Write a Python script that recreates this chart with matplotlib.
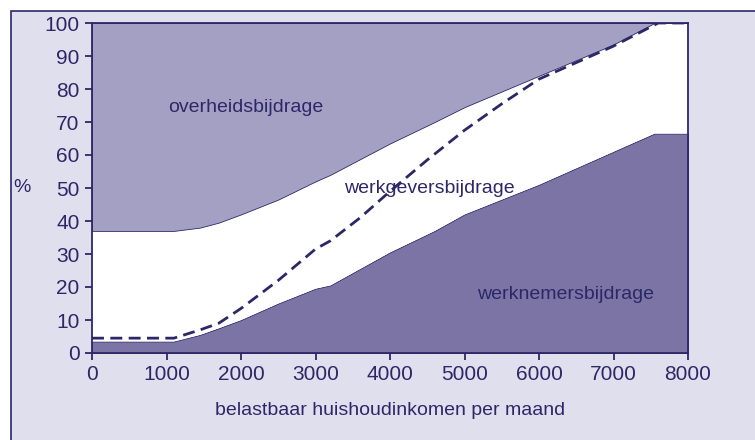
import matplotlib
matplotlib.use("Agg")
import matplotlib.pyplot as plt
from matplotlib.patches import Rectangle

# ---- data ----
income = [0, 1100, 1450, 1700, 2000, 2500, 3000, 3200, 4000, 4600, 5000, 6000, 7000, 7550, 8000]
upper_bound = [37, 37, 38, 39.5, 42, 46.5, 52, 54, 63.5, 70, 74.5, 84, 93.5, 100, 100]
lower_bound = [3.5, 3.5, 5.5, 7.5, 10, 15, 19.5, 20.5, 30.5, 37, 42, 51, 61, 66.5, 66.5]

dash_income = [0, 1100, 1450, 1700, 2000, 2500, 3000, 3200, 3600, 4000, 4500, 5000, 5500, 6000, 6500, 7000, 7600, 8000]
dash_values = [4.5, 4.5, 7, 9, 13.5, 22, 31.5, 34, 41, 49, 58.5, 67.5, 75.5, 83, 88, 93, 100, 100]

xticks = [0, 1000, 2000, 3000, 4000, 5000, 6000, 7000, 8000]
yticks = [0, 10, 20, 30, 40, 50, 60, 70, 80, 90, 100]
region_labels = ["overheidsbijdrage", "werkgeversbijdrage", "werknemersbijdrage"]
xlabel = "belastbaar huishoudinkomen per maand"
ylabel = "%"

# ---- style ----
navy = "#2c2868"
top_col = "#a4a0c4"
bot_col = "#7b74a5"
bg_col = "#dfdfee"

plt.rcParams['font.family'] = ['Liberation Sans', 'DejaVu Sans']

fig = plt.figure(figsize=(7.55, 4.4), dpi=100)
fig.patch.set_facecolor("white")
fig.patches.append(Rectangle((11 / 755, -0.1), 1.2, 1 - 11 / 440 + 0.1,
                             transform=fig.transFigure, facecolor=bg_col,
                             edgecolor=navy, linewidth=1.2, zorder=-10))

ax = fig.add_axes([92 / 755, 1 - 353 / 440, (688 - 92) / 755, (353 - 23) / 440])
ax.set_facecolor("white")

ax.fill_between(income, 0, lower_bound, facecolor=bot_col, edgecolor=navy, linewidth=0.6, zorder=1)
ax.fill_between(income, lower_bound, upper_bound, facecolor="white", edgecolor="none", zorder=1)
ax.fill_between(income, upper_bound, 100, facecolor=top_col, edgecolor=navy, linewidth=0.6, zorder=1)
ax.plot(dash_income, dash_values, color=navy, linewidth=2.0, dashes=(4.3, 2.3), zorder=3)

ax.set_xlim(0, 8000)
ax.set_ylim(0, 100)
ax.set_xticks(xticks)
ax.set_yticks(yticks)
ax.tick_params(axis='both', direction='out', length=5, width=1.3, color=navy,
               labelcolor=navy, labelsize=15, pad=4)
for s in ax.spines.values():
    s.set_color(navy)
    s.set_linewidth(1.3)
    s.set_zorder(4)

ax.text(2060, 74.3, region_labels[0], color=navy, fontsize=14, ha='center', va='center')
ax.text(4530, 50.0, region_labels[1], color=navy, fontsize=14, ha='center', va='center')
ax.text(6360, 17.8, region_labels[2], color=navy, fontsize=14, ha='center', va='center')

fig.text(22 / 755, 1 - 187 / 440, ylabel, color=navy, fontsize=14, ha='center', va='center')
fig.text(390 / 755, 1 - 410 / 440, xlabel, color=navy, fontsize=14, ha='center', va='center')

fig.savefig("out.png", dpi=100)
